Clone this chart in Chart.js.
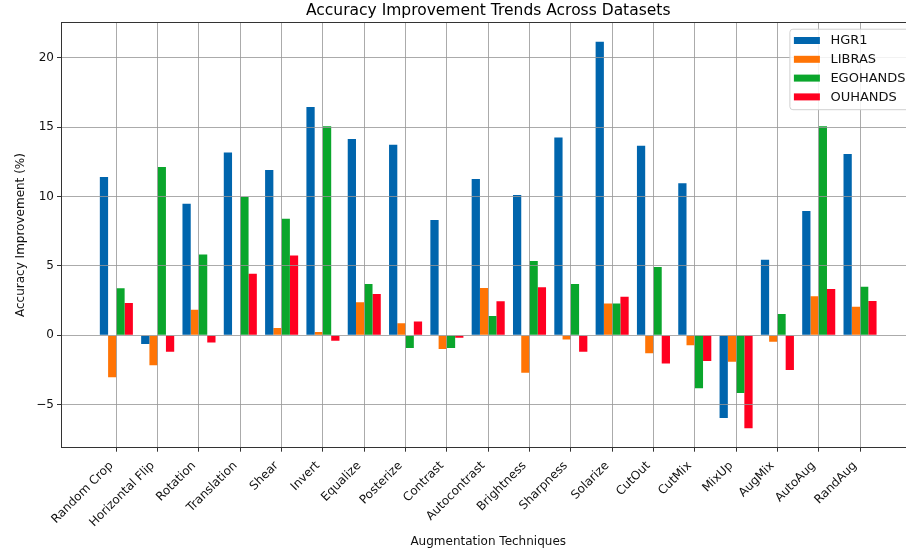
<!DOCTYPE html>
<html>
<head>
<meta charset="utf-8">
<script src="https://cdn.jsdelivr.net/npm/chart.js@4/dist/chart.umd.min.js"></script>
<style>
  html, body { margin: 0; padding: 0; background: #fff; overflow: hidden; }
  #wrap { position: absolute; left: 0; top: 0; width: 930px; height: 554px; }
</style>
</head>
<body>
<div id="wrap"><canvas id="c" width="930" height="554"></canvas></div>
<script>
// Augmentation techniques (x categories)
const techniques = ['Random Crop', 'Horizontal Flip', 'Rotation', 'Translation', 'Shear', 'Invert',
  'Equalize', 'Posterize', 'Contrast', 'Autocontrast', 'Brightness', 'Sharpness', 'Solarize',
  'CutOut', 'CutMix', 'MixUp', 'AugMix', 'AutoAug', 'RandAug'];

// Accuracy improvement (%) per dataset
const hgr1     = [11.4, -0.63, 9.48, 13.18, 11.91, 16.45, 14.14, 13.73, 8.31, 11.26, 10.11, 14.26, 21.15, 13.66, 10.95, -5.96, 5.45, 8.96, 13.06];
const libras   = [-3.03, -2.16, 1.85, 0.0, 0.53, 0.24, 2.38, 0.86, -0.99, 3.41, -2.69, -0.31, 2.3, -1.3, -0.72, -1.9, -0.46, 2.81, 2.06];
const egohands = [3.39, 12.13, 5.83, 9.96, 8.4, 15.06, 3.7, -0.92, -0.92, 1.39, 5.35, 3.7, 2.3, 4.92, -3.82, -4.16, 1.53, 15.06, 3.5];
const ouhands  = [2.33, -1.18, -0.51, 4.44, 5.76, -0.39, 2.98, 1.0, -0.17, 2.45, 3.46, -1.18, 2.78, -2.04, -1.85, -6.7, -2.5, 3.34, 2.47];

const yTicks = [-5, 0, 5, 10, 15, 20];

const seriesNames = ['HGR1', 'LIBRAS', 'EGOHANDS', 'OUHANDS'];
const seriesColors = ['#0065ad', '#ff7405', '#0aa62c', '#ff0020'];
const seriesValues = [hgr1, libras, egohands, ouhands];

const FONT = '"DejaVu Sans", sans-serif';

const datasets = seriesNames.map((name, s) => ({
  label: name,
  data: seriesValues[s].map((v, i) => ({ x: i, y: v })),
  backgroundColor: seriesColors[s],
  borderWidth: 0,
  barPercentage: 1.0,
  categoryPercentage: 0.8
}));

// Legend box and axes frame drawn on top of the plot
const framePlugin = {
  id: 'frameAndLegend',
  afterDraw(chart) {
    const ctx = chart.ctx;
    const a = chart.chartArea;
    ctx.save();
    ctx.strokeStyle = '#333';
    ctx.lineWidth = 1;
    ctx.strokeRect(Math.round(a.left) + 0.5, Math.round(a.top) + 0.5,
                   Math.round(a.right - a.left), Math.round(a.bottom - a.top));

    // legend
    const bx = a.right - 125.5, by = a.top + 6.8, bw = 121, bh = 80.5, r = 3;
    ctx.beginPath();
    ctx.moveTo(bx + r, by);
    ctx.lineTo(bx + bw - r, by);
    ctx.arcTo(bx + bw, by, bx + bw, by + r, r);
    ctx.lineTo(bx + bw, by + bh - r);
    ctx.arcTo(bx + bw, by + bh, bx + bw - r, by + bh, r);
    ctx.lineTo(bx + r, by + bh);
    ctx.arcTo(bx, by + bh, bx, by + bh - r, r);
    ctx.lineTo(bx, by + r);
    ctx.arcTo(bx, by, bx + r, by, r);
    ctx.closePath();
    ctx.fillStyle = 'rgba(255,255,255,0.85)';
    ctx.fill();
    ctx.strokeStyle = '#d0d0d0';
    ctx.stroke();

    ctx.font = '13px ' + FONT;
    ctx.textBaseline = 'middle';
    ctx.textAlign = 'left';
    chart.data.datasets.forEach((ds, i) => {
      const cy = by + 11.3 + i * 18.8;
      ctx.fillStyle = ds.backgroundColor;
      ctx.fillRect(bx + 4, cy - 3.5, 26, 7);
      ctx.fillStyle = '#111';
      ctx.fillText(ds.label, bx + 40.5, cy + 0.5);
    });
    ctx.restore();
  }
};

new Chart(document.getElementById('c'), {
  type: 'bar',
  data: { datasets },
  plugins: [framePlugin],
  options: {
    responsive: false,
    animation: false,
    devicePixelRatio: 1,
    layout: { padding: { left: 0, right: 14.6, top: 0, bottom: 0 } },
    plugins: {
      legend: { display: false },
      tooltip: { enabled: false },
      title: {
        display: true,
        text: 'Accuracy Improvement Trends Across Datasets',
        fullSize: false,
        color: '#000',
        font: { family: FONT, size: 15.5, weight: 'normal' },
        padding: { top: 2, bottom: 1.8 }
      }
    },
    scales: {
      x: {
        type: 'linear',
        offset: false,
        min: -1.34,
        max: 19.34,
        afterBuildTicks: (scale) => { scale.ticks = techniques.map((_, i) => ({ value: i })); },
        afterFit: (scale) => { scale.height = 106.3; scale.paddingLeft = 0; scale.paddingRight = 0; },
        ticks: {
          autoSkip: false,
          minRotation: 45,
          maxRotation: 45,
          padding: 7,
          labelOffset: -5,
          color: '#111',
          font: { family: FONT, size: 12 },
          callback: (v) => techniques[v]
        },
        grid: { offset: false, color: 'rgba(150,150,150,0.8)', lineWidth: 1, z: 1, tickLength: 4, tickColor: '#333' },
        border: { display: false },
        title: {
          display: true,
          text: 'Augmentation Techniques',
          color: '#111',
          font: { family: FONT, size: 12 },
          padding: { top: 0, bottom: 5 }
        }
      },
      y: {
        min: -8.1,
        max: 22.55,
        afterBuildTicks: (scale) => { scale.ticks = yTicks.map(v => ({ value: v })); },
        afterFit: (scale) => { scale.width = 61; },
        ticks: {
          padding: 3,
          color: '#111',
          font: { family: FONT, size: 12 },
          callback: (v) => v < 0 ? '\u2212' + Math.abs(v) : String(v)
        },
        grid: { color: 'rgba(150,150,150,0.8)', lineWidth: 1, z: 1, tickLength: 4, tickColor: '#333' },
        border: { display: false },
        title: {
          display: true,
          text: 'Accuracy Improvement (%)',
          color: '#111',
          font: { family: FONT, size: 12 },
          padding: { top: 14, bottom: 0 }
        }
      }
    }
  }
});
</script>
</body>
</html>
